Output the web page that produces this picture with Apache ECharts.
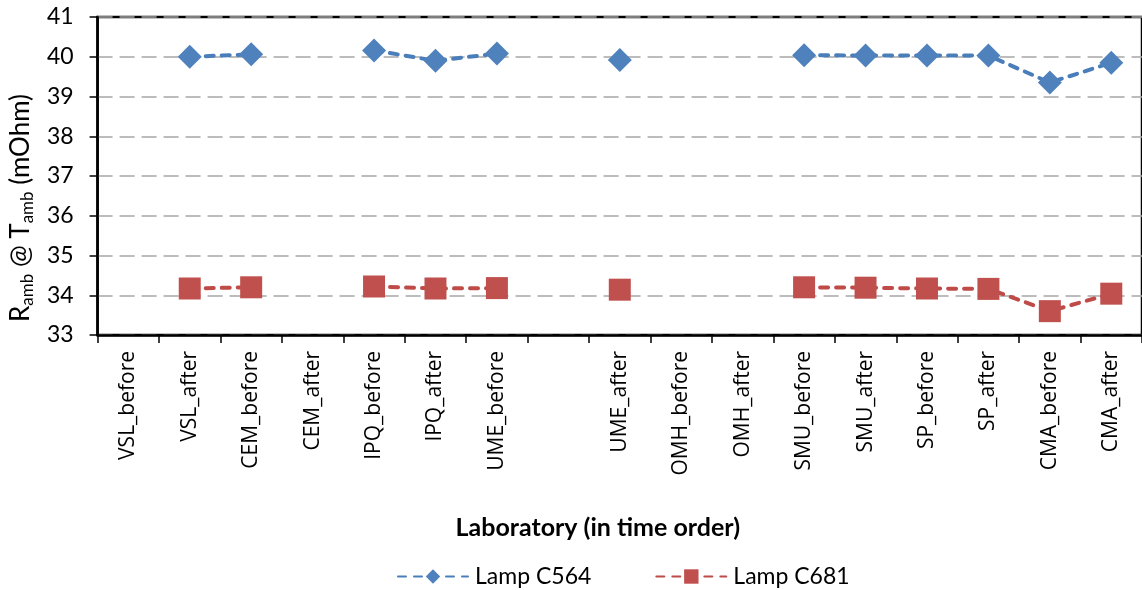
<!DOCTYPE html>
<html>
<head>
<meta charset="utf-8">
<script src="https://cdn.jsdelivr.net/npm/echarts@6/dist/echarts.min.js"></script>
<style>html,body{margin:0;padding:0;background:#fff}#c{width:1142px;height:590px}</style>
</head>
<body>
<div id="c"></div>
<script>
const categories = ['VSL_before','VSL_after','CEM_before','CEM_after','IPQ_before','IPQ_after','UME_before','','UME_after','OMH_before','OMH_after','SMU_before','SMU_after','SP_before','SP_after','CMA_before','CMA_after'];
const lampC564 = [null, 40.00, 40.06, null, 40.16, 39.90, 40.08, null, 39.92, null, null, 40.04, 40.03, 40.03, 40.03, 39.35, 39.85];
const lampC681 = [null, 34.17, 34.20, null, 34.22, 34.17, 34.18, null, 34.14, null, null, 34.20, 34.19, 34.17, 34.16, 33.60, 34.04];
const seriesNames = ['Lamp C564', 'Lamp C681'];
const yMin = 33, yMax = 41, yStep = 1;

const chart = echarts.init(document.getElementById('c'), null, {renderer: 'canvas'});
const calibri = 'Lato, "Liberation Sans", sans-serif';
chart.setOption({
  animation: false,
  backgroundColor: '#fff',
  grid: {left: 97, right: -2, top: 17, bottom: 255, show: true, borderColor: '#000', borderWidth: 2.5, backgroundColor: 'transparent'},
  legend: {
    top: 560, left: 392, itemWidth: 70, itemHeight: 18, itemGap: 64,
    textStyle: {fontFamily: calibri, fontSize: 23, color: '#000', padding: [0, 0, 0, 2]},
    data: seriesNames
  },
  xAxis: {
    type: 'category', data: categories, boundaryGap: true,
    name: 'Laboratory (in time order)', nameLocation: 'middle', nameGap: 180,
    nameTextStyle: {fontFamily: calibri, fontSize: 25, fontWeight: 'bold', color: '#000', padding: [0, 44, 0, 0]},
    axisLine: {lineStyle: {color: '#000', width: 2.5}},
    axisTick: {show: true, inside: false, length: 8, alignWithLabel: false, interval: 0, lineStyle: {color: '#000', width: 1.5}},
    axisLabel: {interval: 0, rotate: 90, margin: 16, fontFamily: '"Open Sans", sans-serif', fontSize: 21, color: '#000'},
    splitLine: {show: false}
  },
  yAxis: {
    type: 'value', min: yMin, max: yMax, interval: yStep,
    name: '{r|R}{s|amb}{r| @ T}{s|amb}{r| (mOhm)}', nameLocation: 'middle', nameRotate: 90, nameGap: 58,
    nameTextStyle: {
      padding: [0, 64, 0, 0],
      rich: {
        r: {fontFamily: calibri, fontSize: 26, color: '#000', lineHeight: 30},
        s: {fontFamily: calibri, fontSize: 17, color: '#000', lineHeight: 17, verticalAlign: 'bottom'}
      }
    },
    axisLine: {show: true, lineStyle: {color: '#000', width: 2.5}},
    axisTick: {show: true, inside: false, length: 8, lineStyle: {color: '#000', width: 1.5}},
    axisLabel: {margin: 24, fontFamily: calibri, fontSize: 23, color: '#000'},
    splitLine: {show: true, lineStyle: {color: '#a6a6a6', width: 1.5, type: [15, 7]}}
  },
  series: [
    {
      name: seriesNames[0], type: 'line', data: lampC564, connectNulls: false,
      symbol: 'diamond', symbolSize: 24,
      itemStyle: {color: '#4F81BD'},
      lineStyle: {color: '#4A7EBB', width: 4, type: [8, 8], cap: 'round'}
    },
    {
      name: seriesNames[1], type: 'line', data: lampC681, connectNulls: false,
      symbol: 'rect', symbolSize: 22,
      itemStyle: {color: '#C0504D'},
      lineStyle: {color: '#BE4B48', width: 4, type: [8, 8], cap: 'round'}
    }
  ]
});
</script>
</body>
</html>
